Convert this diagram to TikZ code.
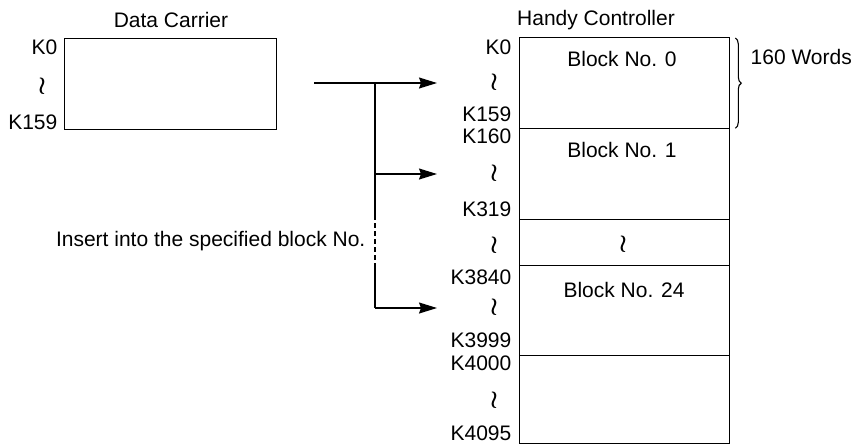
\documentclass[tikz,border=0pt]{standalone}
\usepackage{fontspec}
\setmainfont{Liberation Sans}
\usetikzlibrary{arrows.meta,decorations.pathreplacing,calc}
\begin{document}
\begin{tikzpicture}[x=1pt,y=-1pt,
  line width=1.3pt,
  lbl/.style={font=\fontsize{21}{23}\selectfont, inner sep=0pt},
  addr/.style={lbl, anchor=east},
  wig/.style={font=\fontsize{26}{28}\selectfont\boldmath, inner sep=0pt},
  blk/.style={draw, anchor=north west, minimum width=210pt, inner sep=0pt},
  arr/.style={-{Stealth[length=18pt,width=11pt,inset=2pt]}}
]
\useasboundingbox (0,0) rectangle (853,445);
% Data carrier
\node[draw, anchor=north west, minimum width=212pt, minimum height=91pt, inner sep=0pt] (dc) at (64,38) {};
\node[lbl] (dct) at (171,20) {Data Carrier};
\node[addr] (dk0) at (58,47) {K0};
\node[wig] (dw) at (42,86) {$\wr$};
\node[addr] (dk159) at (58,122) {K159};
% Handy controller blocks
\node[blk, minimum height=91pt] (b0) at (519,37) {};
\node[blk, minimum height=91pt] (b1) at (519,128) {};
\node[blk, minimum height=46pt] (bd) at (519,219) {};
\node[blk, minimum height=90pt] (b24) at (519,265) {};
\node[blk, minimum height=88pt] (br) at (519,355) {};
\node[lbl] (hct) at (596,20) {Handy Controller};
\node[lbl] (t0) at (622,59) {Block No. 0};
\node[lbl] (t1) at (622,150) {Block No. 1};
\node[wig] (td) at (623,244) {$\wr$};
\node[lbl] (t24) at (624,290) {Block No. 24};
% addresses
\node[addr] (k0) at (512,47) {K0};
\node[wig] (w0) at (494,82) {$\wr$};
\node[addr] (k159) at (512,114) {K159};
\node[addr] (k160) at (512,136) {K160};
\node[wig] (w1) at (494,173) {$\wr$};
\node[addr] (k319) at (512,209) {K319};
\node[wig] (w2) at (494,245) {$\wr$};
\node[addr] (k3840) at (512,277) {K3840};
\node[wig] (w3) at (494,307) {$\wr$};
\node[addr] (k3999) at (512,340) {K3999};
\node[addr] (k4000) at (512,363) {K4000};
\node[wig] (w4) at (494,400) {$\wr$};
\node[addr] (k4095) at (512,433) {K4095};
% brace
\coordinate (bt) at ($(b0.north east)+(5,1)$);
\coordinate (bb) at ($(b0.south east)+(5,-1)$);
\draw[decorate, decoration={brace, amplitude=6pt}, line width=1.1pt] (bt) -- (bb);
\node[lbl, anchor=west] (words) at (750,57) {160 Words};
% arrows
\coordinate (s) at (314,83);
\coordinate (j0) at (375,83);
\coordinate (j1) at (375,174);
\coordinate (j2) at (375,308);
\coordinate (ds) at (375,215);
\coordinate (de) at (375,263);
\coordinate (a0) at (437,83);
\coordinate (a1) at (437,174);
\coordinate (a2) at (437,308);
\draw[arr] (s) -- (a0);
\draw (j0) -- (ds);
\draw[dashed, dash pattern=on 5pt off 3pt] (ds) -- (de);
\draw (de) -- (j2);
\draw[arr] (j1) -- (a1);
\draw[arr] (j2) -- (a2);
\node[lbl, anchor=east] (ins) at (366,241) {Insert into the specified block No.};
\end{tikzpicture}
\end{document}
